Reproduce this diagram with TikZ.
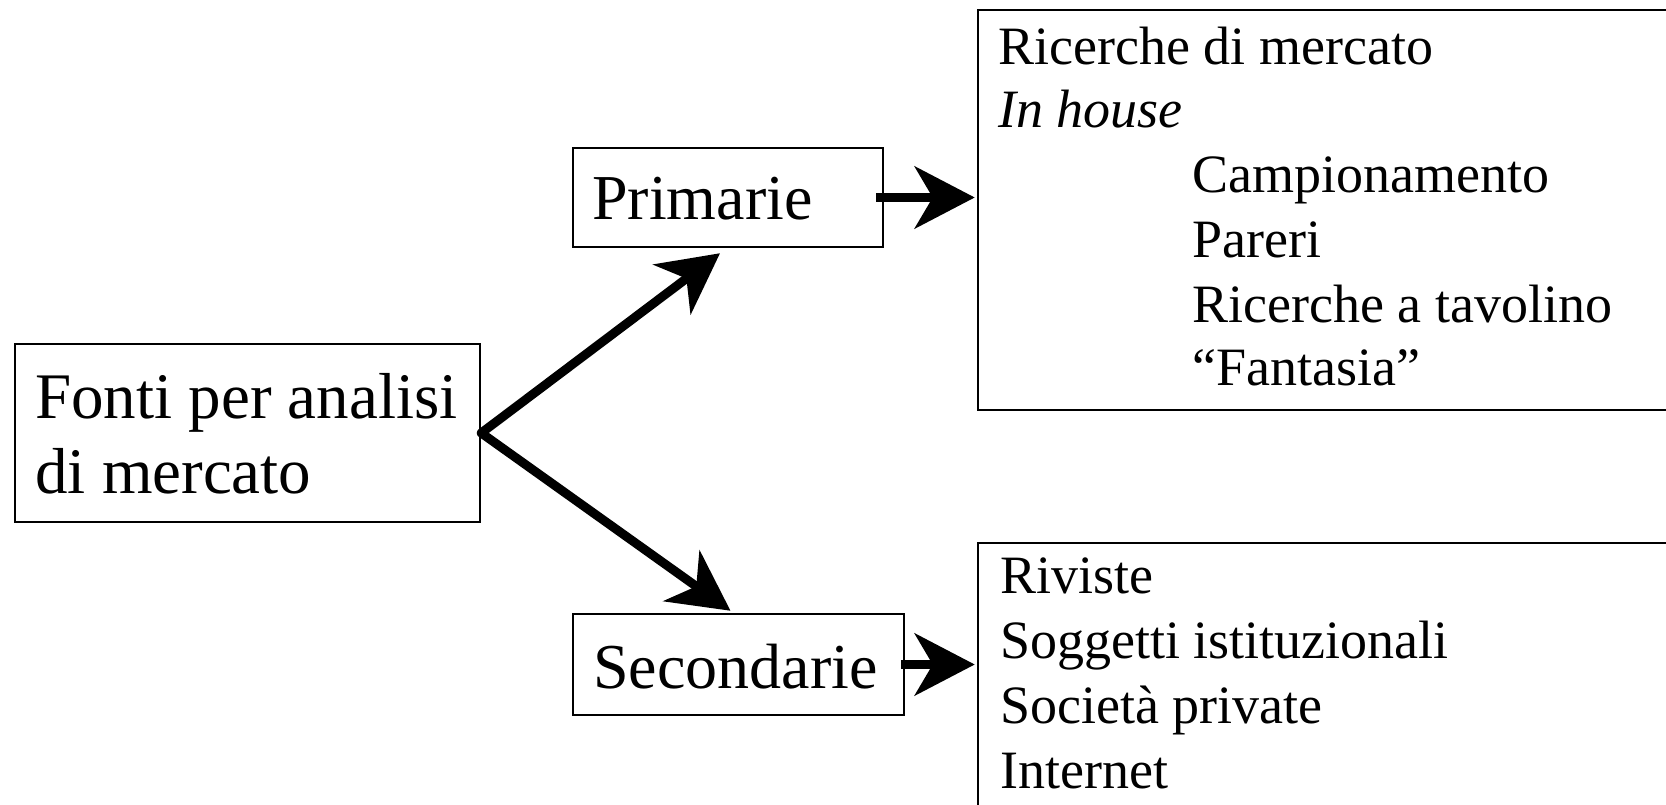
\documentclass[tikz,border=0pt]{standalone}
\usepackage{fontspec}
\setmainfont{Liberation Serif}
\usetikzlibrary{arrows.meta}
\begin{document}
\begin{tikzpicture}[x=1pt,y=-1pt,
  box/.style={draw,line width=2.5pt,rectangle,inner sep=0pt},
  bigarrow/.style={line width=9pt,-{Stealth[length=60pt,width=62pt,inset=18pt]}},
  lbl/.style={anchor=base west,inner sep=0pt},
  bigfont/.style={font=\fontsize{65}{75}\selectfont},
  midfont/.style={font=\fontsize{64}{75}\selectfont},
  smallfont/.style={font=\fontsize{54}{64}\selectfont}]
\useasboundingbox (0,0) rectangle (1666,805);
\clip (0,0) rectangle (1666,805);
\fill[white] (0,0) rectangle (1666,805);
% boxes
\node[box,minimum width=465pt,minimum height=178pt] (fonti) at (247.5,433) {};
\node[box,minimum width=310pt,minimum height=99pt] (prim) at (728,197.5) {};
\node[box,minimum width=331pt,minimum height=101pt] (sec) at (738.5,664.5) {};
\node[box,minimum width=722pt,minimum height=400pt] (box1) at (1339,210) {};
\node[box,minimum width=722pt,minimum height=307pt] (box2) at (1339,696.5) {};
% texts
\node[lbl,bigfont] (f1) at (35,418) {Fonti per analisi};
\node[lbl,bigfont] (f2) at (35,493) {di mercato};
\node[lbl,midfont] (pt) at (592,220) {Primarie};
\node[lbl,midfont] (st) at (593,688) {Secondarie};
\node[lbl,smallfont] (r1) at (998,65) {Ricerche di mercato};
\node[lbl,smallfont] (r2) at (998,128) {\itshape In house};
\node[lbl,smallfont] (r3) at (1192,193) {Campionamento};
\node[lbl,smallfont] (r4) at (1192,258) {Pareri};
\node[lbl,smallfont] (r5) at (1192,322) {Ricerche a tavolino};
\node[lbl,smallfont] (r6) at (1192,385) {“Fantasia”};
\node[lbl,smallfont] (s1) at (1000,593) {Riviste};
\node[lbl,smallfont] (s2) at (1000,658) {Soggetti istituzionali};
\node[lbl,smallfont] (s3) at (1000,723) {Società private};
\node[lbl,smallfont] (s4) at (1000,788) {Internet};
% connectors
\draw[bigarrow,line cap=round] (fonti.east) -- ([xshift=-8pt,yshift=-5pt]prim.south);
\draw[bigarrow,line cap=round] (fonti.east) -- ([xshift=-8pt,yshift=2pt]sec.north);
\draw[bigarrow] ([xshift=-8pt]prim.east) -- ([xshift=-2pt]prim.east -| box1.west);
\draw[bigarrow] ([xshift=-4pt]sec.east) -- ([xshift=-2pt]sec.east -| box2.west);
\end{tikzpicture}
\end{document}
